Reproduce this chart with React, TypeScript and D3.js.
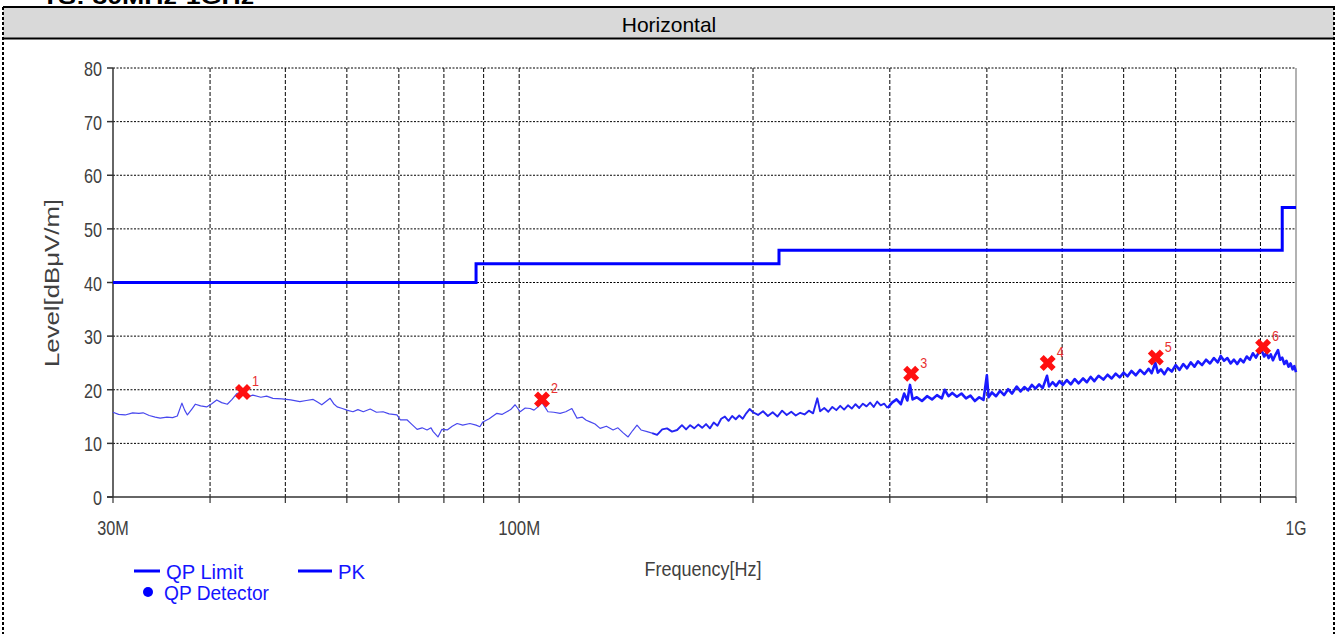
import React from 'react';
import * as d3 from 'd3';

// axis ticks
const yTicks = [0, 10, 20, 30, 40, 50, 60, 70, 80];
const xGridMHz = [40, 50, 60, 70, 80, 90, 100, 200, 300, 400, 500, 600, 700, 800, 900];
const xLabelMHz = [30, 100, 1000];
const xLabelText = ['30M', '100M', '1G'];

// QP limit steps: [start MHz, level]
const limitSteps: [number, number][] = [
  [30, 40], [88, 43.5], [216, 46], [960, 54], [1000, 54],
];

// measured PK trace [MHz, dBuV/m]
const trace: [number, number][] = [
  [30, 15.8], [30.5, 15.4], [31.1, 15.3], [31.8, 15.7], [32.4, 15.6], [32.8, 15.7], [33.4, 15.2],
  [34.0, 14.9], [34.5, 14.7], [35.2, 14.9], [35.8, 14.8], [36.3, 15.1], [36.8, 17.5], [37.1, 16.2],
  [37.4, 15.3], [37.9, 16.4], [38.3, 17.3], [38.9, 17.0], [39.6, 16.8], [40.2, 17.4], [40.8, 18.1],
  [41.4, 17.6], [42.1, 17.3], [42.7, 18.2], [43.3, 19.3], [44.1, 19.6], [44.8, 18.7], [45.4, 19.0],
  [46.5, 18.6], [47.3, 18.8], [48.2, 18.4], [49.5, 18.3], [50.8, 18.1], [52.2, 17.8], [53.2, 18.0],
  [54.3, 18.2], [55.0, 17.7], [55.7, 17.2], [56.4, 17.8], [57.1, 18.4], [57.7, 17.4], [58.3, 16.8],
  [59.2, 16.5], [60.0, 16.2], [61.1, 15.9], [62.0, 16.3], [63.0, 15.9], [64.3, 16.4], [65.5, 15.8],
  [66.8, 15.9], [68.0, 15.5], [69.6, 15.3], [70.3, 14.4], [71.7, 14.4], [72.8, 13.5], [73.9, 12.6],
  [75.0, 12.9], [76.1, 12.5], [77.0, 12.9], [77.5, 12.2], [78.6, 11.2], [79.5, 12.6], [80.8, 12.5],
  [82.0, 13.2], [83.2, 13.7], [84.6, 13.4], [86.4, 13.7], [88.0, 13.4], [89.0, 13.1], [89.8, 14.0],
  [91.5, 14.6], [93.6, 15.6], [95.0, 15.4], [96.4, 15.9], [97.5, 16.3], [98.8, 17.2], [100.3, 15.9],
  [101.8, 16.6], [103.3, 16.5], [104.5, 16.2], [105.7, 16.8], [107.0, 17.6], [107.8, 16.9],
  [108.9, 15.9], [110.8, 15.8], [112.9, 15.6], [114.8, 15.9], [116.9, 16.5], [117.8, 15.6],
  [118.7, 14.7], [120.5, 14.9], [122.0, 14.3], [123.4, 14.0], [125.2, 13.6], [127.1, 12.8],
  [129.5, 13.2], [132.1, 12.5], [134.0, 12.9], [136.0, 12.0], [138.1, 11.2], [140.0, 12.4],
  [141.8, 13.4], [143.5, 12.5], [146.1, 12.2], [148.3, 11.9], [150.5, 11.6], [152.8, 12.6],
  [155.0, 12.8], [157.3, 12.2], [159.7, 12.5],
  [162, 13.4], [164, 12.6], [166, 13.4], [168, 12.8], [170, 13.5], [172, 12.9], [174, 13.6],
  [176, 12.8], [178, 13.9], [180, 13.3], [182, 14.6], [184, 15.0], [186, 14.2], [188, 15.1],
  [190, 14.5], [192, 15.2], [194, 14.6], [196, 15.6], [198, 16.4], [200, 15.8],
  [203, 15.3], [206, 16.0], [209, 15.1], [212, 15.8], [215, 15.0], [218, 16.1], [221, 15.3],
  [224, 15.9], [227, 15.2], [230, 15.7], [233, 15.4], [236, 16.1], [239, 15.6], [242, 18.4],
  [244, 16.0], [247, 16.6], [250, 15.9], [253, 16.8], [256, 16.2], [259, 17.0], [262, 16.3],
  [265, 17.1], [268, 16.5], [271, 17.3], [274, 16.6], [277, 17.4], [280, 16.9], [283, 17.6],
  [286, 16.8], [289, 17.8], [292, 17.1], [295, 17.4], [298, 16.6],
  [302, 17.6], [306, 18.2], [310, 17.3], [313, 19.3], [316, 18.0], [318.5, 20.9], [321, 18.2],
  [325, 18.6], [330, 17.9], [335, 18.8], [340, 18.2], [345, 19.0], [350, 18.4], [353, 20.0],
  [357, 18.8], [361, 19.4], [366, 18.7], [371, 19.3], [376, 18.4], [381, 18.9], [386, 17.9],
  [391, 18.6], [396, 18.1], [400, 22.7], [402, 18.6], [406, 19.5], [411, 18.8], [416, 19.8],
  [421, 19.0], [426, 20.1], [431, 19.3], [437, 20.6], [442, 19.7], [447, 20.5], [452, 19.9],
  [457, 20.9], [462, 20.2], [467, 21.0], [472, 20.3], [478, 22.6], [481, 20.6], [486, 21.4],
  [491, 20.7], [496, 21.6],
  [501, 20.9], [507, 21.8], [513, 21.0], [519, 22.0], [525, 21.2], [532, 22.1], [538, 21.4],
  [544, 22.4], [550, 21.6], [557, 22.6], [565, 21.9], [572, 22.8], [579, 22.1], [586, 23.0],
  [593, 22.3], [600, 23.2], [607, 22.5], [614, 23.5], [622, 22.7], [630, 23.7], [638, 22.9],
  [646, 23.9], [652, 23.1], [659, 25.0], [664, 23.2], [670, 23.8], [677, 22.9], [684, 24.0],
  [692, 23.4], [700, 24.6], [708, 23.7], [716, 24.8], [724, 24.0], [732, 25.1], [740, 24.3],
  [748, 25.3], [757, 24.6], [766, 25.6], [775, 24.9], [784, 25.9], [793, 25.1], [800, 26.3],
  [808, 25.4], [816, 25.9], [824, 24.9], [832, 25.6], [840, 24.8], [848, 25.7], [856, 25.1],
  [864, 26.2], [872, 25.6], [880, 26.8], [888, 26.0], [896, 27.0], [904, 27.2], [910, 26.2],
  [916, 26.9], [922, 25.9], [928, 26.6], [934, 25.5], [940, 26.4], [948, 27.4], [954, 25.6],
  [960, 26.0], [966, 24.8], [972, 25.4], [978, 24.3], [984, 24.9], [990, 23.8], [995, 24.4],
  [1000, 23.3],
];

// where the sweep gets dense (drawn heavier there)
const bandEdgesMHz = [30, 150, 300, 1000];

// QP detector points
const markerMHz = [44.1, 107.0, 319.6, 479, 660, 907];
const markerLevel = [19.6, 18.2, 23.0, 25.0, 26.0, 28.0];

const W = 1338;
const H = 634;
const sans = "'Liberation Sans', Arial, sans-serif";

export default function App() {
  const x = d3.scaleLog().domain([30, 1000]).range([113, 1296]);
  const y = d3.scaleLinear().domain([0, 80]).range([497, 68]);

  const traceLine = d3.line<[number, number]>()
    .x((d) => x(d[0]))
    .y((d) => y(d[1]));

  const limitLine = d3.line<[number, number]>()
    .x((d) => x(d[0]))
    .y((d) => y(d[1]))
    .curve(d3.curveStepAfter);

  const bandStyle = [
    { w: 1.2, c: '#4848ee' },
    { w: 1.9, c: '#2424f4' },
    { w: 2.6, c: '#1a1aff' },
  ];
  const bis = d3.bisector((d: [number, number]) => d[0]);
  const bands = bandStyle.map((s, i) => {
    const a = Math.max(0, bis.left(trace, bandEdgesMHz[i]) - 1);
    const b = bis.right(trace, bandEdgesMHz[i + 1]);
    return { ...s, pts: trace.slice(a, b) };
  });

  const cross = d3.symbol(d3.symbolCross, 160)();

  return (
    <svg width={W} height={H} style={{ position: 'absolute', left: 0, top: 0 }}>
      <rect x={0} y={0} width={W} height={H} fill="#fff" />

      {/* clipped caption above the table */}
      <text x={42} y={4} fontFamily={sans} fontWeight="bold" fontSize={22}
        textLength={212} lengthAdjust="spacingAndGlyphs">TS: 30MHz-1GHz</text>

      {/* header cell */}
      <rect x={3} y={7} width={1331} height={31} fill="#d9d9d9" />
      <line x1={3} x2={1335} y1={7} y2={7} stroke="#000" strokeWidth={2} />
      <line x1={3} x2={1335} y1={38.5} y2={38.5} stroke="#000" strokeWidth={2} />
      <line x1={3} x2={3} y1={7} y2={H} stroke="#000" strokeWidth={2} strokeDasharray="3,2" />
      <line x1={1334} x2={1334} y1={7} y2={H} stroke="#000" strokeWidth={2} strokeDasharray="3,2" />
      <text x={669} y={32} textAnchor="middle" fontFamily={sans} fontSize={21}>
        Horizontal
      </text>

      {/* grid */}
      {yTicks.filter((t) => t > 0).map((t) => (
        <line key={`h${t}`} x1={113} x2={1296} y1={y(t)} y2={y(t)}
          stroke="#000" strokeWidth={1} strokeDasharray="2,1.5" />
      ))}
      {xGridMHz.map((f) => (
        <line key={`v${f}`} x1={x(f)} x2={x(f)} y1={68} y2={497}
          stroke="#000" strokeWidth={1} strokeDasharray="4,2" />
      ))}
      <line x1={1296} x2={1296} y1={68} y2={497} stroke="#999" strokeWidth={1.5} />

      {/* axes */}
      <line x1={113} x2={113} y1={68} y2={497} stroke="#333" strokeWidth={1.5} />
      <line x1={107} x2={1296} y1={497} y2={497} stroke="#333" strokeWidth={1.5} />
      {yTicks.map((t) => (
        <g key={`yt${t}`}>
          <line x1={107} x2={113} y1={y(t)} y2={y(t)} stroke="#333" strokeWidth={1.5} />
          <text x={102} y={y(t) + 8} textAnchor="end" fontFamily={sans} fontSize={21} fill="#404040"
            textLength={String(t).length * 9} lengthAdjust="spacingAndGlyphs">
            {t}
          </text>
        </g>
      ))}
      {[30, ...xGridMHz, 1000].map((f) => (
        <line key={`xt${f}`} x1={x(f)} x2={x(f)} y1={497} y2={503} stroke="#333" strokeWidth={1.2} />
      ))}
      {xLabelMHz.map((f, i) => (
        <text key={`xl${f}`} x={x(f)} y={535} textAnchor="middle" fontFamily={sans}
          fontSize={20} fill="#404040" textLength={xLabelText[i].length * 10.5}
          lengthAdjust="spacingAndGlyphs">{xLabelText[i]}</text>
      ))}

      <text transform="translate(59,283) rotate(-90)" textAnchor="middle" fontFamily={sans}
        fontSize={20} fill="#404040" textLength={168} lengthAdjust="spacingAndGlyphs">Level[dBμV/m]</text>
      <text x={703} y={576} textAnchor="middle" fontFamily={sans} fontSize={21} fill="#404040"
        textLength={117} lengthAdjust="spacingAndGlyphs">Frequency[Hz]</text>

      {/* limit + trace */}
      <path d={limitLine(limitSteps) ?? ''} fill="none" stroke="#0000ff" strokeWidth={3} />
      {bands.map((b, i) => (
        <path key={`b${i}`} d={traceLine(b.pts) ?? ''} fill="none" stroke={b.c}
          strokeWidth={b.w} strokeLinejoin="round" />
      ))}

      {/* QP detector markers */}
      {markerMHz.map((f, i) => (
        <g key={`m${i}`}>
          <path d={cross ?? ''} fill="#ff1010"
            transform={`translate(${x(f)},${y(markerLevel[i])}) rotate(45)`} />
          <text x={x(f) + 9} y={y(markerLevel[i]) - 6} fontFamily={sans} fontSize={15} fill="#e83030"
            textLength={7} lengthAdjust="spacingAndGlyphs">
            {i + 1}
          </text>
        </g>
      ))}

      {/* legend */}
      <line x1={134} x2={160} y1={571} y2={571} stroke="#0000ff" strokeWidth={3} />
      <text x={166} y={579} fontFamily={sans} fontSize={21} fill="#1414ff"
        textLength={77} lengthAdjust="spacingAndGlyphs">QP Limit</text>
      <line x1={298} x2={332} y1={571} y2={571} stroke="#0000ff" strokeWidth={3} />
      <text x={338} y={579} fontFamily={sans} fontSize={21} fill="#1414ff"
        textLength={27} lengthAdjust="spacingAndGlyphs">PK</text>
      <circle cx={148} cy={592} r={5} fill="#0000ff" />
      <text x={164} y={600} fontFamily={sans} fontSize={21} fill="#1414ff"
        textLength={105} lengthAdjust="spacingAndGlyphs">QP Detector</text>
    </svg>
  );
}
